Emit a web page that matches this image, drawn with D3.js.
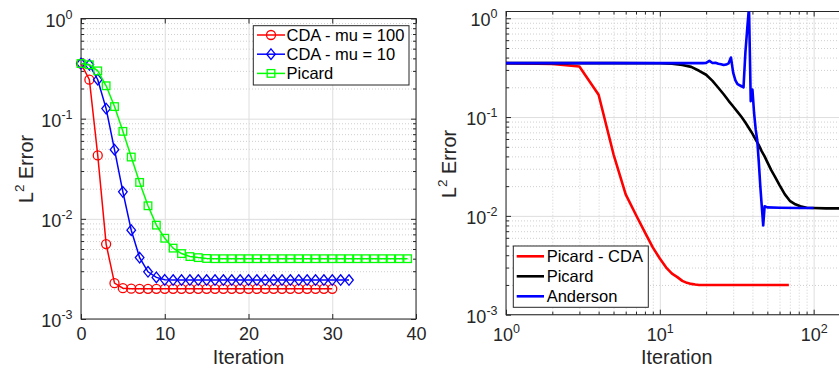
<!DOCTYPE html>
<html>
<head>
<meta charset="utf-8">
<script src="https://cdn.jsdelivr.net/npm/d3@7"></script>
<style>
    body { margin: 0; background: #fff; }
    svg { font-family: "Liberation Sans", Arial, Helvetica, sans-serif; }
    .domain { display: none; }
    .grid line { stroke: #dedede; }
    .minorgrid line { stroke: #cfcfcf; stroke-dasharray: 1,2; }
    .ticks line { stroke: #262626; }
    .ticks text { fill: #262626; font-size: 18px; }
    .box { fill: none; stroke: #262626; stroke-width: 1; }
    .label { fill: #262626; font-size: 19.8px; }
    .legend text { fill: #000; font-size: 16.5px; }
</style>
</head>
<body>
<div id="chart"></div>
<script>
// ---- left panel: error per iteration (iteration = array index, starting at 0)
var cdaMu100 = [0.355, 0.245, 0.043, 0.0056, 0.00228, 0.00203, 0.00201, 0.002, 0.002, 0.002,
    0.002, 0.002, 0.002, 0.002, 0.002, 0.002, 0.002, 0.002, 0.002, 0.002,
    0.002, 0.002, 0.002, 0.002, 0.002, 0.002, 0.002, 0.002, 0.002, 0.002,
    0.002];
var cdaMu10 = [0.355, 0.345, 0.245, 0.126, 0.049, 0.0186, 0.0077, 0.0041, 0.00296, 0.0026,
    0.00246, 0.00245, 0.00245, 0.00245, 0.00245, 0.00245, 0.00245, 0.00245, 0.00245, 0.00245,
    0.00245, 0.00245, 0.00245, 0.00245, 0.00245, 0.00245, 0.00245, 0.00245, 0.00245, 0.00245,
    0.00245, 0.00245, 0.00245];
var picardLeft = [0.355, 0.345, 0.30, 0.213, 0.132, 0.0747, 0.0414, 0.0231, 0.0135, 0.00865,
    0.0064, 0.0051, 0.0045, 0.0042, 0.0041, 0.00402, 0.004, 0.004, 0.004, 0.004,
    0.004, 0.004, 0.004, 0.004, 0.004, 0.004, 0.004, 0.004, 0.004, 0.004,
    0.004, 0.004, 0.004, 0.004, 0.004, 0.004, 0.004, 0.004, 0.004, 0.004];

// ---- right panel: (iteration, error) samples
var picardCdaIter = [1, 2, 3, 4, 5, 6, 7, 8, 9, 10, 11, 12, 13, 14, 15, 16, 17, 18, 20, 25, 30, 40, 50, 60, 69];
var picardCdaErr = [0.351, 0.345, 0.325, 0.168, 0.042, 0.0165, 0.0102, 0.0068, 0.0048, 0.0037, 0.003, 0.0026, 0.0024,
    0.0022, 0.0021, 0.00205, 0.00202, 0.002, 0.002, 0.002, 0.002, 0.002, 0.002, 0.002, 0.002];

var picardIter = [1, 5, 10, 12, 14, 16, 18, 20, 22, 24, 26, 28, 30, 32, 34, 36, 38, 40, 42, 44, 46, 48, 50, 53, 56,
    60, 65, 70, 76, 82, 90, 100, 120, 166];
var picardErr = [0.351, 0.351, 0.35, 0.346, 0.337, 0.322, 0.294, 0.268, 0.232, 0.198, 0.17, 0.146, 0.128, 0.113, 0.1,
    0.088, 0.077, 0.068, 0.059, 0.052, 0.045, 0.04, 0.035, 0.029, 0.025, 0.0205, 0.0165, 0.0142, 0.0131, 0.0125,
    0.0121, 0.012, 0.0119, 0.0119];

var andersonIter = [1, 10, 19, 20, 21, 22, 23, 24, 25, 26, 27, 28, 29, 30, 31, 32, 33, 34, 35, 36, 37, 38, 39, 40,
    41, 42, 43, 44, 45, 46, 47, 48, 50, 60, 80, 100];
var andersonErr = [0.351, 0.351, 0.351, 0.353, 0.37, 0.352, 0.355, 0.346, 0.342, 0.336, 0.34, 0.35, 0.40, 0.28, 0.235,
    0.215, 0.21, 0.205, 0.20, 0.45, 0.78, 1.3, 0.145, 0.19, 0.11, 0.075, 0.058, 0.035, 0.02, 0.0125, 0.008, 0.0125,
    0.0122, 0.0121, 0.012, 0.012];

var xTicksLeft = [0, 10, 20, 30, 40];
var xTicksRight = [1, 10, 100];
var yTicks = [0.001, 0.01, 0.1, 1];
var legendLeft = ["CDA - mu = 100", "CDA - mu = 10", "Picard"];
var legendRight = ["Picard - CDA", "Picard", "Anderson"];

var svg = d3.select("#chart").append("svg")
    .attr("width", 839)
    .attr("height", 369);

function powerLabel(sel) {
    sel.each(function (d) {
        var t = d3.select(this);
        t.text(null);
        t.append("tspan").text("10");
        t.append("tspan").attr("dy", -8).style("font-size", "12.5px").text(Math.round(Math.log10(d)));
    });
}

// grid, ticks and box for one panel
function frame(x, y, xMajor, xLog, xLabelY) {
    var left = x.range()[0], right = x.range()[1], bottom = y.range()[0], top = y.range()[1];
    var yMinor = y.ticks().filter(function (d) { return yTicks.indexOf(d) < 0; });
    var xMinor = xLog ? x.ticks().filter(function (d) { return xMajor.indexOf(d) < 0; }) : [];

    svg.append("g").attr("class", "minorgrid")
        .attr("transform", "translate(" + left + ",0)")
        .call(d3.axisLeft(y).tickValues(yMinor).tickSize(-(right - left)).tickFormat(""));
    if (xLog) {
        svg.append("g").attr("class", "minorgrid")
            .attr("transform", "translate(0," + bottom + ")")
            .call(d3.axisBottom(x).tickValues(xMinor).tickSize(-(bottom - top)).tickFormat(""));
    }
    svg.append("g").attr("class", "grid")
        .attr("transform", "translate(" + left + ",0)")
        .call(d3.axisLeft(y).tickValues(yTicks).tickSize(-(right - left)).tickFormat(""));
    svg.append("g").attr("class", "grid")
        .attr("transform", "translate(0," + bottom + ")")
        .call(d3.axisBottom(x).tickValues(xMajor).tickSize(-(bottom - top)).tickFormat(""));

    // inward ticks on all four sides
    var yl = svg.append("g").attr("class", "ticks")
        .attr("transform", "translate(" + left + ",0)")
        .call(d3.axisLeft(y).tickValues(yTicks).tickSize(-5).tickPadding(8.5));
    yl.selectAll("text").attr("dy", "7.5px").call(powerLabel);
    svg.append("g").attr("class", "ticks")
        .attr("transform", "translate(" + left + ",0)")
        .call(d3.axisLeft(y).tickValues(yMinor).tickSize(-3).tickFormat(""));
    svg.append("g").attr("class", "ticks")
        .attr("transform", "translate(" + right + ",0)")
        .call(d3.axisRight(y).tickValues(yTicks).tickSize(-5).tickFormat(""));
    svg.append("g").attr("class", "ticks")
        .attr("transform", "translate(" + right + ",0)")
        .call(d3.axisRight(y).tickValues(yMinor).tickSize(-3).tickFormat(""));

    var xb = svg.append("g").attr("class", "ticks")
        .attr("transform", "translate(0," + bottom + ")")
        .call(d3.axisBottom(x).tickValues(xMajor).tickSize(-5));
    xb.selectAll("text").attr("y", xLabelY).attr("dy", 0);
    if (xLog) xb.selectAll("text").call(powerLabel);
    svg.append("g").attr("class", "ticks")
        .attr("transform", "translate(0," + top + ")")
        .call(d3.axisTop(x).tickValues(xMajor).tickSize(-5).tickFormat(""));
    if (xLog) {
        svg.append("g").attr("class", "ticks")
            .attr("transform", "translate(0," + bottom + ")")
            .call(d3.axisBottom(x).tickValues(xMinor).tickSize(-3).tickFormat(""));
        svg.append("g").attr("class", "ticks")
            .attr("transform", "translate(0," + top + ")")
            .call(d3.axisTop(x).tickValues(xMinor).tickSize(-3).tickFormat(""));
    }

    svg.append("rect").attr("class", "box")
        .attr("x", left).attr("y", top)
        .attr("width", right - left).attr("height", bottom - top);
}

function axisLabels(cx, cy, yLabelX) {
    svg.append("text").attr("class", "label")
        .attr("x", cx).attr("y", 363.5)
        .attr("text-anchor", "middle")
        .text("Iteration");
    var t = svg.append("text").attr("class", "label")
        .attr("text-anchor", "middle")
        .attr("transform", "translate(" + yLabelX + "," + cy + ") rotate(-90)");
    t.append("tspan").text("L");
    t.append("tspan").attr("dy", -9).style("font-size", "13.5px").text("2");
    t.append("tspan").attr("dy", 9).text(" Error");
}

/* ---------- left panel ---------- */
var xL = d3.scaleLinear().domain([0, 40]).range([81, 416]);
var yL = d3.scaleLog().domain([0.001, 1]).range([319, 18.5]);
frame(xL, yL, xTicksLeft, false, 20.5);
axisLabels(248.5, 169, 33);

var lineL = d3.line()
    .x(function (d, i) { return xL(i); })
    .y(function (d) { return yL(d); });

var leftSeries = [
    {name: legendLeft[0], values: cdaMu100, color: "#ff0000", marker: "circle"},
    {name: legendLeft[1], values: cdaMu10, color: "#0000ff", marker: "diamond"},
    {name: legendLeft[2], values: picardLeft, color: "#00ff00", marker: "square"}
];

function marker(g, type, color) {
    if (type === "circle") {
        g.append("circle").attr("r", 4.5);
    } else if (type === "diamond") {
        g.append("path").attr("d", "M0,-5.3L4.3,0L0,5.3L-4.3,0Z");
    } else {
        g.append("rect").attr("x", -3.8).attr("y", -3.8).attr("width", 7.6).attr("height", 7.6);
    }
    g.selectAll("*").attr("fill", "none").attr("stroke", color).attr("stroke-width", 1.3);
}

leftSeries.forEach(function (s) {
    svg.append("path")
        .datum(s.values)
        .attr("fill", "none")
        .attr("stroke", s.color)
        .attr("stroke-width", 1.5)
        .attr("d", lineL);
    svg.append("g").selectAll("g")
        .data(s.values)
        .enter().append("g")
        .attr("transform", function (d, i) { return "translate(" + xL(i) + "," + yL(d) + ")"; })
        .each(function () { marker(d3.select(this), s.marker, s.color); });
});

var legL = svg.append("g").attr("class", "legend");
legL.append("rect")
    .attr("x", 253.3).attr("y", 25.7).attr("width", 155.7).attr("height", 59.3)
    .attr("fill", "#fff").attr("stroke", "#262626").attr("stroke-width", 1);
leftSeries.forEach(function (s, i) {
    var ly = 35 + i * 19.2;
    legL.append("line")
        .attr("x1", 257).attr("x2", 285).attr("y1", ly).attr("y2", ly)
        .attr("stroke", s.color).attr("stroke-width", 1.5);
    marker(legL.append("g").attr("transform", "translate(271," + ly + ")"), s.marker, s.color);
    legL.append("text").attr("x", 286.5).attr("y", ly + 6).text(s.name);
});

/* ---------- right panel ---------- */
var xR = d3.scaleLog().domain([1, 166]).range([506, 847.5]);
var yR = d3.scaleLog().domain([0.001, 1.17]).range([314.7, 11.5]);
frame(xR, yR, xTicksRight, true, 26.5);
axisLabels(676.7, 164, 456);

svg.append("clipPath").attr("id", "clipR")
    .append("rect").attr("x", 506).attr("y", 11.5).attr("width", 341.5).attr("height", 303.2);

var rightSeries = [
    {name: legendRight[0], iter: picardCdaIter, err: picardCdaErr, color: "#ff0000"},
    {name: legendRight[1], iter: picardIter, err: picardErr, color: "#000000"},
    {name: legendRight[2], iter: andersonIter, err: andersonErr, color: "#0000ff"}
];

var lineR = d3.line()
    .x(function (d) { return xR(d[0]); })
    .y(function (d) { return yR(d[1]); });

rightSeries.forEach(function (s) {
    svg.append("path")
        .datum(d3.zip(s.iter, s.err))
        .attr("clip-path", "url(#clipR)")
        .attr("fill", "none")
        .attr("stroke", s.color)
        .attr("stroke-width", 2.6)
        .attr("stroke-linejoin", "round")
        .attr("d", lineR);
});

var legR = svg.append("g").attr("class", "legend");
legR.append("rect")
    .attr("x", 513.3).attr("y", 246).attr("width", 135).attr("height", 61.3)
    .attr("fill", "#fff").attr("stroke", "#262626").attr("stroke-width", 1);
rightSeries.forEach(function (s, i) {
    var ly = 256.3 + i * 20;
    legR.append("line")
        .attr("x1", 516.7).attr("x2", 544).attr("y1", ly).attr("y2", ly)
        .attr("stroke", s.color).attr("stroke-width", 2.6);
    legR.append("text").attr("x", 546.7).attr("y", ly + 6).text(s.name);
});
</script>
</body>
</html>
